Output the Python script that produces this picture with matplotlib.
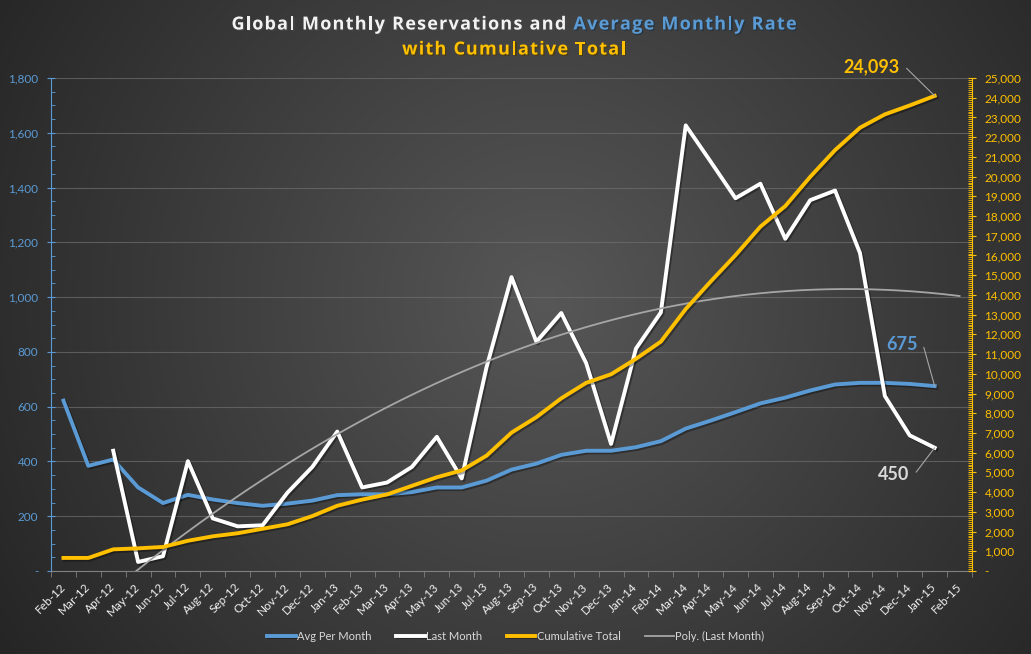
import numpy as np
import matplotlib
matplotlib.use('Agg')
import matplotlib.pyplot as plt
import matplotlib.patheffects as pe
from matplotlib.ticker import MultipleLocator, FuncFormatter

plt.rcParams['font.family'] = ['Lato', 'DejaVu Sans']

# months on the x axis (Feb-15 only carries the trend forecast)
months = ['Feb-12', 'Mar-12', 'Apr-12', 'May-12', 'Jun-12', 'Jul-12', 'Aug-12', 'Sep-12',
          'Oct-12', 'Nov-12', 'Dec-12', 'Jan-13', 'Feb-13', 'Mar-13', 'Apr-13', 'May-13',
          'Jun-13', 'Jul-13', 'Aug-13', 'Sep-13', 'Oct-13', 'Nov-13', 'Dec-13', 'Jan-14',
          'Feb-14', 'Mar-14', 'Apr-14', 'May-14', 'Jun-14', 'Jul-14', 'Aug-14', 'Sep-14',
          'Oct-14', 'Nov-14', 'Dec-14', 'Jan-15', 'Feb-15']

# Feb-12 .. Jan-15
avg_per_month = [622, 384, 407, 305, 248, 278, 261, 248, 238, 246, 257, 277, 280, 280, 288, 305,
                 305, 330, 370, 392, 424, 439, 439, 452, 474, 520, 549, 580, 612, 633, 659, 681,
                 687, 687, 683, 675]

# Feb-12 .. Jan-15, blank (None) for Feb-12 / Mar-12
last_month = [None, None, 439, 33, 54, 401, 192, 163, 167, 286, 380, 509, 305, 323, 380, 490,
              338, 745, 1073, 837, 942, 759, 464, 812, 944, 1627, 1495, 1361, 1414, 1213, 1354,
              1389, 1161, 639, 495, 450]

# Feb-12 .. Jan-15
cumulative = [662, 662, 1097, 1149, 1219, 1532, 1758, 1915, 2141, 2368, 2786, 3308, 3621, 3882,
              4318, 4753, 5101, 5850, 7016, 7800, 8757, 9540, 9976, 10760, 11630, 13284, 14677,
              16017, 17462, 18507, 19987, 21345, 22477, 23156, 23609, 24093]

BLUE = '#5b9bd5'
ORANGE = '#ffc000'
GREY = '#a6a6a6'

W, H = 1031, 654
fig = plt.figure(figsize=(W / 100, H / 100), dpi=100)

# radial gradient background
bg = fig.add_axes([0, 0, 1, 1], zorder=-10)
yy, xx = np.mgrid[0:H, 0:W]
d = np.hypot(xx - 545, yy - 300)
d = d / d.max()
shade = np.clip((87 - 50 * d) / 255, 0, 1)
bg.imshow(np.dstack([shade] * 3), aspect='auto', interpolation='bilinear')
bg.axis('off')

ax = fig.add_axes([51 / W, 83 / H, 921 / W, 493 / H])
ax.patch.set_alpha(0)
ax2 = ax.twinx()
ax2.patch.set_alpha(0)

x = np.arange(len(avg_per_month))
lm = np.array([np.nan if v is None else v for v in last_month], dtype=float)
ax.set_xlim(-0.5, len(months) - 0.5)
ax.set_ylim(0, 1800)
ax2.set_ylim(0, 25000)

shadow = [pe.SimpleLineShadow(offset=(1.2, -1.2), shadow_color='black', alpha=0.35), pe.Normal()]

l1, = ax.plot(x, avg_per_month, color=BLUE, lw=2.8, label='Avg Per Month', path_effects=shadow)
l2, = ax.plot(x, lm, color='white', lw=2.8, label='Last Month', path_effects=shadow)

# polynomial (order 2) trend of Last Month over its points, one period forward
ok = ~np.isnan(lm)
coef = np.polyfit(x[ok], lm[ok], 2)
xt = np.linspace(x[ok][0], len(months) - 1, 300)
l4, = ax.plot(xt, np.polyval(coef, xt), color=GREY, lw=1.3, label='Poly. (Last Month)', zorder=3)

l3, = ax2.plot(x, cumulative, color=ORANGE, lw=2.8, label='Cumulative Total', path_effects=shadow)

# axes styling
fmt = FuncFormatter(lambda v, p: '-' if v == 0 else f'{v:,.0f}')
ax.yaxis.set_major_locator(MultipleLocator(200))
ax.yaxis.set_minor_locator(MultipleLocator(50))
ax.yaxis.set_major_formatter(fmt)
ax.tick_params(axis='y', which='major', colors=BLUE, direction='inout', length=6, labelsize=8.5, pad=6)
ax.tick_params(axis='y', which='minor', colors=BLUE, direction='in', length=3)
ax.grid(axis='y', color='#6e6e6e', lw=0.8, alpha=0.7)
ax.set_axisbelow(True)

ax2.yaxis.set_major_locator(MultipleLocator(1000))
ax2.yaxis.set_minor_locator(MultipleLocator(100))
ax2.yaxis.set_major_formatter(fmt)
ax2.tick_params(axis='y', which='major', colors=ORANGE, direction='inout', length=6, labelsize=8.5, pad=6)
ax2.tick_params(axis='y', which='minor', colors=ORANGE, direction='in', length=3)

ax.set_xticks(np.arange(len(months)))
ax.set_xticklabels(months, rotation=45, ha='right', va='center', rotation_mode='anchor',
                   color='#f2f2f2', fontsize=8.5)
ax.set_xticks(np.arange(-0.5, len(months)), minor=True)
ax.tick_params(axis='x', which='major', length=0, pad=10)
ax.tick_params(axis='x', which='minor', length=4, color='#808080')

for s in ['top', 'right']:
    ax.spines[s].set_visible(False)
ax.spines['left'].set_color(BLUE)
ax.spines['bottom'].set_color('#808080')
for s in ['top', 'left', 'bottom']:
    ax2.spines[s].set_visible(False)
ax2.spines['right'].set_color(ORANGE)

# end-of-series labels
lead = dict(arrowstyle='-', color=GREY, lw=0.8, shrinkA=3, shrinkB=0, relpos=(1, 0.5),
            connectionstyle='arc,angleA=0,angleB=0,armA=5,armB=0,rad=0')
ax2.annotate(f'{cumulative[-1]:,}', xy=(x[-1], cumulative[-1]), xytext=(-25, 21),
             textcoords='offset points', ha='right', va='center', color=ORANGE,
             fontsize=13, fontweight='bold', arrowprops=lead)
ax.annotate(f'{avg_per_month[-1]:,}', xy=(x[-1], avg_per_month[-1]), xytext=(-12, 30),
            textcoords='offset points', ha='right', va='center', color=BLUE,
            fontsize=13, fontweight='bold', arrowprops=lead)
ax.annotate(f'{last_month[-1]:,}', xy=(x[-1], last_month[-1]), xytext=(-18, -19),
            textcoords='offset points', ha='right', va='center', color='#d9d9d9',
            fontsize=13, fontweight='bold', arrowprops=lead)

# legend
fig.legend(handles=[l1, l2, l3, l4], loc='center', bbox_to_anchor=(0.5, 1 - 636 / H), ncol=4,
           frameon=False, fontsize=8, labelcolor='#d9d9d9', handlelength=2.6,
           handletextpad=0.1, columnspacing=2.2)

# title in three colours, letter-spaced like the original
tkw = dict(fontsize=13, fontweight='bold', family=['Open Sans', 'DejaVu Sans'], va='baseline',
           path_effects=[pe.withSimplePatchShadow(offset=(1, -1), alpha=0.6)])
fig.canvas.draw()
r = fig.canvas.get_renderer()
_cache = {}


def text_w(s):
    t = fig.text(0, 0, s, **tkw)
    w = t.get_window_extent(r).width
    t.remove()
    return w


def char_w(c):
    if c not in _cache:
        _cache[c] = text_w('X' + c + 'X') - text_w('XX')
    return _cache[c]


def draw_tracked(parts, cx, y, track):
    chars = [(c, col) for s, col in parts for c in s]
    total = sum(char_w(c) for c, _ in chars) + track * (len(chars) - 1)
    xp = cx - total / 2
    for c, col in chars:
        if c != ' ':
            fig.text(xp / W, y, c, ha='left', color=col, **tkw)
        xp += char_w(c) + track


line1 = [('Global Monthly Reservations and ', '#f2f2f2'), ('Average Monthly Rate', BLUE)]
n1 = sum(len(s) for s, _ in line1)
raw1 = sum(char_w(c) for s, _ in line1 for c in s)
track = max(0.0, (565 - raw1) / (n1 - 1))
draw_tracked(line1, 514, 1 - 29.5 / H, track)
draw_tracked([('with Cumulative Total', ORANGE)], 514, 1 - 54.5 / H, track)

fig.savefig('out.png', dpi=100)
